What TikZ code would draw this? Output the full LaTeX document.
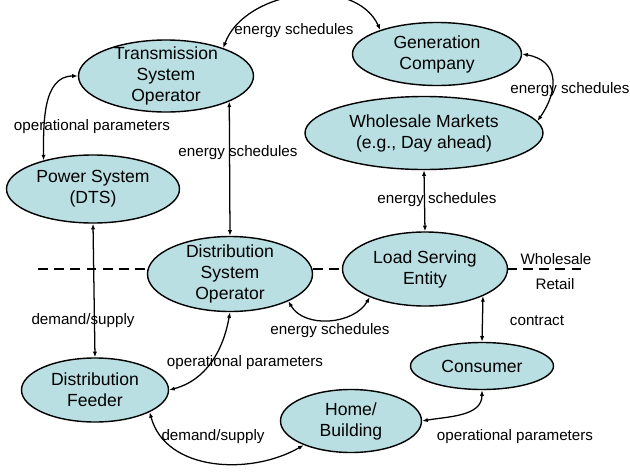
\documentclass[tikz,border=0pt]{standalone}
\usepackage{fontspec}
\setmainfont{Liberation Sans}
\usepackage{tikz}
\usepackage{xcolor}
\usetikzlibrary{arrows.meta,shapes.geometric}
\definecolor{entfill}{HTML}{B9DFE2}

\begin{document}
\begin{tikzpicture}[
  ent/.style={ellipse,draw=black,fill=entfill,line width=1pt,inner sep=-8pt,align=center,font=\fontsize{12.5}{15}\selectfont},
  arr/.style={{Latex[length=4pt,width=3pt]}-{Latex[length=4pt,width=3pt]},line width=0.9pt,black},
  lbl/.style={font=\fontsize{10.8}{12}\selectfont},
  divider/.style={dash pattern=on 7pt off 4.5pt,line width=1pt}
]
\useasboundingbox (0,0) rectangle (15.75,-11.8);

% wholesale / retail boundary, drawn first so the entities hide it
\coordinate (dl) at (0.95,-6.725);
\coordinate (dr) at (14.65,-6.725);
\draw[divider] (dl) -- (dr);

\node[ent,minimum width=4.375cm,minimum height=1.8cm] (tso) at (4.15,-1.9) {Transmission\\System\\Operator};
\node[ent,minimum width=4.225cm,minimum height=1.575cm] (gen) at (10.925,-1.35) {Generation\\Company};
\node[ent,minimum width=5.95cm,minimum height=1.825cm] (wm) at (10.6,-3.325) {Wholesale Markets\\(e.g., Day ahead)};
\node[ent,minimum width=4.325cm,minimum height=1.7cm] (ps) at (2.325,-4.725) {Power System\\(DTS)};
\node[ent,minimum width=4.125cm,minimum height=1.875cm] (dso) at (5.75,-6.85) {Distribution\\System\\Operator};
\node[ent,minimum width=4.125cm,minimum height=1.85cm] (lse) at (10.625,-6.725) {Load Serving\\Entity};
\node[ent,minimum width=3.675cm,minimum height=1.6cm] (fd) at (2.375,-9.75) {Distribution\\Feeder};
\node[ent,minimum width=3.575cm,minimum height=1.175cm] (con) at (12.05,-9.15) {Consumer};
\node[ent,minimum width=3.525cm,minimum height=1.575cm] (home) at (8.775,-10.525) {Home/\\Building};

\node[lbl] (wlab) at (13.9,-6.475) {Wholesale};
\node[lbl] (rlab) at (13.875,-7.1) {Retail};

\draw[arr] (tso.26) to[out=70,in=115] (gen.157);
\draw[arr] (gen.east) to[out=-10,in=55,looseness=1.4] (wm.6);
\draw[arr] (wm.south) -- (lse.north);
\draw[arr] (tso.-22) -- (dso.north);
\draw[arr] (tso.west) to[out=180,in=90] (ps.150);
\draw[arr] (ps.south) -- (fd.north);
\draw[arr] (dso.south) to[out=-100,in=15] (fd.east);
\draw[arr] (dso.-25) to[out=-60,in=-120] (lse.207);
\draw[arr] (lse.-25) -- (con.north);
\draw[arr] (con.south) to[out=-90,in=10] (home.east);
\draw[arr] (fd.-22) to[out=-75,in=210] (home.207);

\node[lbl] (l1) at (7.35,-0.775) {energy schedules};
\node[lbl] (l2) at (14.25,-2.25) {energy schedules};
\node[lbl] (l3) at (10.925,-5.0) {energy schedules};
\node[lbl] (l4) at (5.95,-3.825) {energy schedules};
\node[lbl] (l5) at (2.3,-3.175) {operational parameters};
\node[lbl] (l6) at (2.075,-8.025) {demand/supply};
\node[lbl] (l7) at (6.125,-9.075) {operational parameters};
\node[lbl] (l8) at (8.25,-8.275) {energy schedules};
\node[lbl] (l9) at (13.425,-8.025) {contract};
\node[lbl] (l10) at (12.875,-10.925) {operational parameters};
\node[lbl] (l11) at (5.325,-10.925) {demand/supply};
\end{tikzpicture}
\end{document}
